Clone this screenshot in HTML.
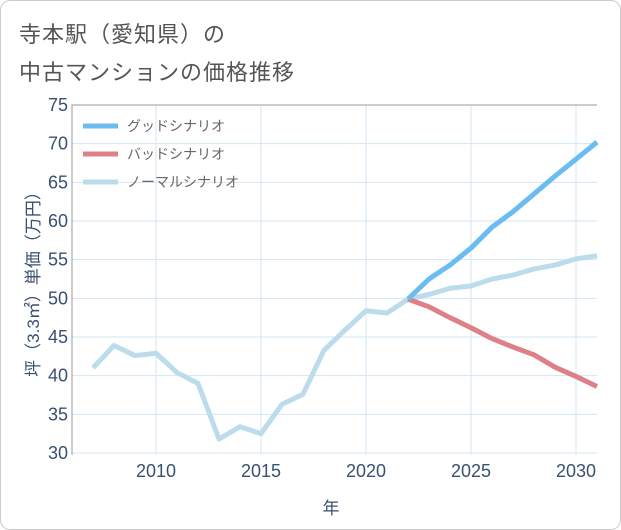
<!DOCTYPE html>
<html><head><meta charset="utf-8">
<style>
body{margin:0;background:#fff;font-family:"Liberation Sans","Noto Sans CJK JP",sans-serif;}
#wrap{position:relative;width:619px;height:528px;border:1px solid #ccc;border-radius:10px;background:#fff;overflow:hidden}
.t{position:absolute;left:18px;font-size:22px;color:#555;letter-spacing:1px}
</style></head><body>
<div id="wrap">
<div class="t" style="top:16px">寺本駅（愛知県）の</div>
<div class="t" style="top:54px">中古マンションの価格推移</div>
<svg id="c" width="621" height="530" style="position:absolute;left:-1px;top:-1px"></svg>
</div>
<script>
const years=[2007,2008,2009,2010,2011,2012,2013,2014,2015,2016,2017,2018,2019,2020,2021,2022,2023,2024,2025,2026,2027,2028,2029,2030,2031];
const normal=[41.0,43.9,42.6,42.9,40.4,39.0,31.8,33.4,32.5,36.3,37.6,43.3,45.9,48.4,48.1,49.9,50.5,51.3,51.6,52.5,53.0,53.8,54.3,55.1,55.5];
const futureYears=[2022,2023,2024,2025,2026,2027,2028,2029,2030,2031];
const good=[49.9,52.5,54.3,56.5,59.2,61.2,63.5,65.8,68.0,70.2];
const bad=[49.9,48.9,47.5,46.2,44.8,43.7,42.7,41.1,39.9,38.6];
const yTicks=[30,35,40,45,50,55,60,65,70,75];
const xTicks=[2010,2015,2020,2025,2030];
const legendLabels=["グッドシナリオ","バッドシナリオ","ノーマルシナリオ"];
const colors=["#6bbcf0","#dd8088","#bcdcec"];
const NS="http://www.w3.org/2000/svg";
const svg=document.getElementById('c');
const X0=72,X1=597,Y0=105,Y1=453;
const x=v=>X0+(v-2006)/(2031-2006)*(X1-X0);
const y=v=>Y1-(v-30)/(75-30)*(Y1-Y0);
function mk(t,a){const e=document.createElementNS(NS,t);for(const k in a)e.setAttribute(k,a[k]);svg.appendChild(e);return e;}
let bg=mk('rect',{x:X0,y:Y0,width:X1-X0,height:Y1-Y0+2,fill:'#fff'});


yTicks.forEach(v=>{
 let l=mk('line',{x1:X0,x2:X1,y1:y(v),y2:y(v),stroke:'#d3e6f2','stroke-width':1});
 
 
 let t=mk('text',{x:X0-4,y:y(v)+6,'text-anchor':'end','font-size':18,fill:'#3a5070'});
 t.textContent=v;
 
 
});
xTicks.forEach(v=>{
 let l=mk('line',{x1:x(v),x2:x(v),y1:Y0,y2:Y1+2,stroke:'#d3e6f2','stroke-width':1});
 
 
 let t=mk('text',{x:x(v),y:477,'text-anchor':'middle','font-size':18,fill:'#3a5070'});
 t.textContent=v;
 
 
});
let ax=mk('path',{d:`M${X0},${Y1+2}V${Y0}H${X1}`,fill:'none',stroke:'#999','stroke-width':1});


let xt=mk('text',{x:331,y:514,'text-anchor':'middle','font-size':17,fill:'#3a5070'});
xt.textContent='年';


let yt=mk('text',{x:0,y:0,'text-anchor':'middle','font-size':17,fill:'#3a5070',transform:'translate(39,280) rotate(-90)'});
yt.textContent='坪（3.3㎡）単価（万円）';


function line(xs,vs,c,name){
 let p=mk('polyline',{points:xs.map((v,i)=>x(v)+','+y(vs[i])).join(' '),fill:'none',stroke:c,'stroke-width':5,'stroke-linejoin':'round'});
 
 
}
line(years,normal,colors[2],'normal-scenario-line');
line(futureYears,bad,colors[1],'bad-scenario-line');
line(futureYears,good,colors[0],'good-scenario-line');
legendLabels.forEach((s,i)=>{
 let ly=126+i*28;
 let l=mk('line',{x1:83,x2:118,y1:ly,y2:ly,stroke:colors[i],'stroke-width':5});
 
 
 let t=mk('text',{x:127,y:ly+5,'font-size':14,fill:'#666'});
 t.textContent=s;
 
 
});
</script>
</body></html>
